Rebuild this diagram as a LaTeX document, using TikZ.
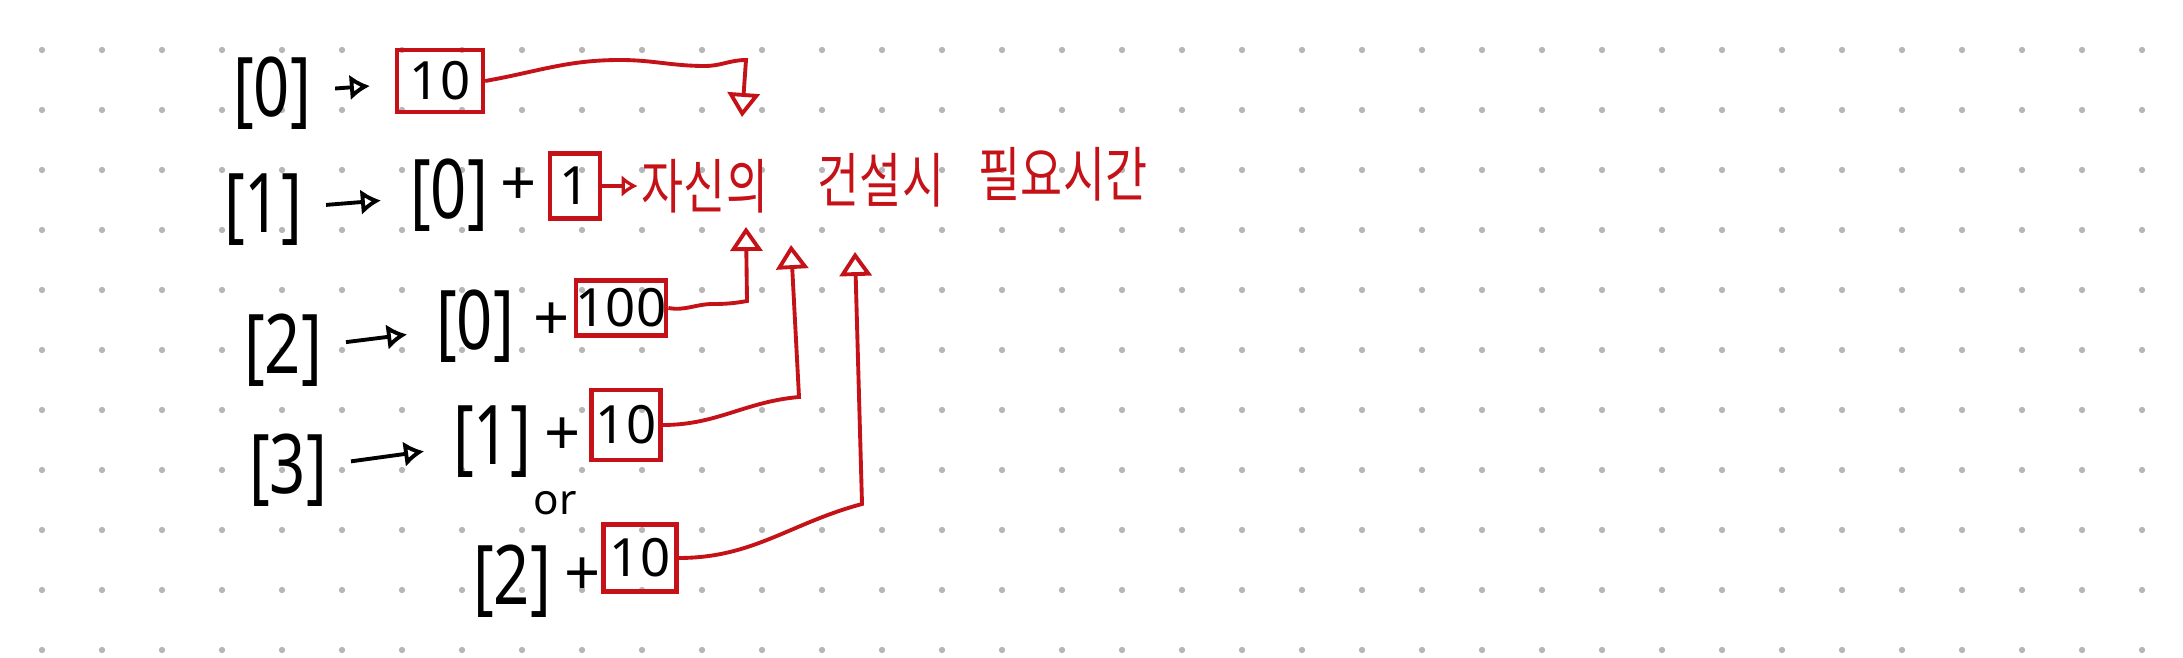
\documentclass[tikz,border=0pt]{standalone}
\usepackage{graphicx}
\usepackage{fontspec}
\setmainfont{Noto Sans}
\newfontfamily\kofont{Noto Sans CJK KR}
\usetikzlibrary{arrows.meta}
\definecolor{pen}{RGB}{196,18,24}
\definecolor{dotgray}{RGB}{182,182,182}
\newcommand{\tall}[1]{\scalebox{1}[1.3]{#1}}

\begin{document}
\begin{tikzpicture}[x=0.01cm, y=-0.01cm,
  hand/.style={font=\fontsize{18}{21}\selectfont, inner sep=1pt},
  redbox/.style={draw=pen, line width=1.2pt, font=\fontsize{15}{18}\selectfont, inner sep=0pt},
  note/.style={text=pen, font=\kofont\fontsize{13}{16}\selectfont, inner sep=1pt},
  blk/.style={-{Latex[open,length=2mm,width=2.6mm]}, line width=1.1pt, shorten <=2mm, shorten >=2.5mm},
  link/.style={draw=pen, line width=1.1pt, -{Triangle[open,length=2.4mm,width=3.2mm]}},
]
\useasboundingbox (0,0) rectangle (2183,658);
% dotted paper
\foreach \i in {0,...,35}
  \foreach \j in {0,...,10}
    \fill[dotgray] (42+60*\i, 50+60*\j) circle (0.9pt);
% row 0
\node[hand] (idx0) at (272,93) {\tall{[0]}};
\node[redbox, minimum width=0.86cm, minimum height=0.62cm] (box0) at (440,81) {10};
% row 1
\node[hand] (idx1) at (263,210) {\tall{[1]}};
\node[hand] (ref10) at (449,195) {\tall{[0]}};
\node[hand] (plus1) at (519,187) {+};
\node[redbox, minimum width=0.5cm, minimum height=0.65cm] (box1) at (575,186) {1};
\node[note] (self) at (705,186) {\tall{자신의}};
\node[note] (build) at (881,180) {\tall{건설시}};
\node[note] (need) at (1063,174) {\tall{필요시간}};
% row 2
\node[hand] (idx2) at (283,350) {\tall{[2]}};
\node[hand] (ref20) at (475,326) {\tall{[0]}};
\node[hand] (plus2) at (552,322) {+};
\node[redbox, minimum width=0.87cm, minimum height=0.55cm] (box2) at (621,308) {100};
% row 3
\node[hand] (idx3) at (288,470) {\tall{[3]}};
\node[hand] (ref31) at (492,442) {\tall{[1]}};
\node[hand] (plus3) at (563,437) {+};
\node[redbox, minimum width=0.69cm, minimum height=0.7cm] (box3) at (626,425) {10};
\node[hand, font=\fontsize{12}{14}\selectfont] (alt) at (555,503) {or};
% row 4
\node[hand] (ref42) at (512,581) {\tall{[2]}};
\node[hand] (plus4) at (583,577) {+};
\node[redbox, minimum width=0.73cm, minimum height=0.67cm] (box4) at (640,558) {10};
% arrow tips and corners
\coordinate (c0) at (746,60);  \coordinate (t0) at (742,117);
\coordinate (c2) at (747,301); \coordinate (t2) at (746,227);
\coordinate (c3) at (799,397); \coordinate (t3) at (791,245);
\coordinate (c4) at (862,504); \coordinate (t4) at (855,252);

\draw[blk] (idx0) -- (box0);
\draw[blk] (idx1) -- (ref10);
\draw[blk] (idx2) -- (ref20);
\draw[blk] (idx3) -- (ref31);
\draw[link] (box0.east) to[out=10,in=180] (620,60) to[out=0,in=180] (705,66) to[out=0,in=180] (c0) -- (t0);
\draw[link, -{Latex[open,length=1.6mm,width=2.2mm]}] (box1) -- (self);
\draw[link] (box2.east) to[out=-10,in=180] (713,304) to[out=0,in=-170] (c2) -- (t2);
\draw[link] (box3.east) to[out=0,in=185] (c3) -- (t3);
\draw[link] (box4.east) to[out=0,in=195] (c4) -- (t4);
\end{tikzpicture}
\end{document}
